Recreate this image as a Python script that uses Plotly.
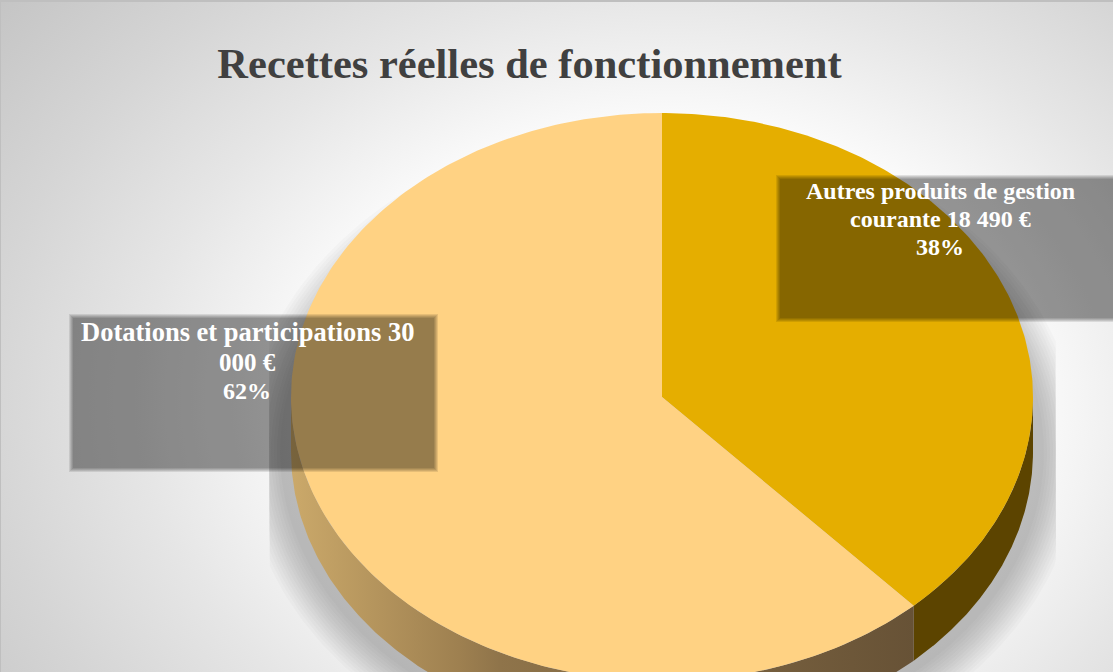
import numpy as np
import plotly.graph_objects as go

# ---- data ----
categories = ["Autres produits de gestion courante", "Dotations et participations"]
values = [18490, 30000]
percent_labels = ["38%", "62%"]
label_lines = [
    ["Autres produits de gestion", "courante 18 490 €", "38%"],
    ["Dotations et participations 30", "000 €", "62%"],
]
title_text = "Recettes réelles de fonctionnement"

# ---- styles ----
W, H = 1113, 672
CX, CY, RX, RY, DEPTH = 662, 397, 371, 284, 55
FACE = ["#E5AE00", "#FFD283"]
WALL_DARK = "#5C4400"
WALL_SCALE = [[0, "#CBA96A"], [0.27, "#9E8050"], [0.335, "#8F744A"], [1, "#675236"]]
FONT = "Liberation Serif"
BOXES = [(778, 1125, 177, 320), (71, 436, 316, 470)]
LABEL_X = [940, 247]
LABEL_Y = [[191, 219, 247], [332, 362, 391]]
LABEL_SIZE = [[24, 24, 24], [26.5, 25, 24]]

fig = go.Figure()


def poly(x, y, **kw):
    fig.add_trace(go.Scatter(x=x, y=y, mode="lines", line=dict(width=0), fill="toself",
                             hoverinfo="skip", showlegend=False, **kw))


def arc(t0, t1, dy=0, n=240):
    t = np.linspace(t0, t1, n)
    return CX + RX * np.sin(t), CY + dy - RY * np.cos(t)


# background radial gradient (a large box centred on the lit spot)
BGX, BGY, BGW, BGH = 670, 400, 910, 700
poly([BGX - BGW, BGX + BGW, BGX + BGW, BGX - BGW, BGX - BGW],
     [BGY - BGH, BGY - BGH, BGY + BGH, BGY + BGH, BGY - BGH],
     fillgradient=dict(type="radial",
                       colorscale=[[0, "#FFFFFF"], [0.36, "#FFFFFF"], [0.58, "#E6E6E6"],
                                   [0.75, "#D5D5D5"], [0.95, "#C3C3C3"], [1, "#C1C1C1"]]))

# soft drop shadow of the pie, cut by its rectangular frame
SH_L, SH_R, SH_CY, SH_RX, SH_RY = 269, 1056, 452, 400, 312
tt = np.linspace(0, 2 * np.pi, 300)
for k in range(18, -19, -3):
    sx = np.clip(CX + (SH_RX + k) * np.sin(tt), SH_L, SH_R)
    sy = SH_CY + (SH_RY + k) * np.cos(tt)
    poly(sx, sy, fillcolor="rgba(0,0,0,0.018)")

# slices
frac = np.cumsum([0] + values) / float(sum(values))
angles = frac * 2 * np.pi

# side walls
a1 = angles[1]
x1, y1 = arc(np.pi / 2, a1)
x2, y2 = arc(a1, np.pi / 2, DEPTH)
poly(np.r_[x1, x2], np.r_[y1, y2], fillcolor=WALL_DARK)

x1, y1 = arc(a1, 1.5 * np.pi)
x2, y2 = arc(1.5 * np.pi, a1, DEPTH)
poly(np.r_[x1, x2], np.r_[y1, y2],
     fillgradient=dict(type="horizontal", colorscale=WALL_SCALE, start=CX - RX, stop=x1[0]))

# top faces
for i in range(len(values)):
    x, y = arc(angles[i], angles[i + 1])
    poly(np.r_[CX, x, CX], np.r_[CY, y, CY], fillcolor=FACE[i])

# translucent label boxes with blurred edges
for (l, r, t, b) in BOXES:
    for d in (-2, -1, 0, 1, 2):
        poly([l + d, r - d, r - d, l + d, l + d], [t + d, t + d, b - d, b - d, t + d],
             fillcolor="rgba(0,0,0,0.097)")

# labels
annotations = []
for i, lines in enumerate(label_lines):
    for j, line in enumerate(lines):
        annotations.append(dict(x=LABEL_X[i], y=LABEL_Y[i][j], xref="x", yref="y", text=line,
                                showarrow=False, align="center",
                                font=dict(family=FONT, size=LABEL_SIZE[i][j], color="white",
                                          weight="bold")))

fig.update_layout(
    width=W, height=H, margin=dict(l=0, r=0, t=0, b=0),
    paper_bgcolor="#EEEEEE", plot_bgcolor="rgba(0,0,0,0)", showlegend=False,
    title=dict(text=title_text, x=529.5 / W, xanchor="center", y=1 - 63 / H, yanchor="middle",
               font=dict(family=FONT, size=42.5, color="#404040", weight="bold")),
    xaxis=dict(range=[0, W], visible=False, fixedrange=True),
    yaxis=dict(range=[H, 0], visible=False, fixedrange=True),
    annotations=annotations,
    shapes=[
        dict(type="line", x0=0, x1=W, y0=1, y1=1, line=dict(color="#BFBFBF", width=2), layer="above"),
        dict(type="line", x0=0.5, x1=0.5, y0=0, y1=H, line=dict(color="#BFBFBF", width=1), layer="above"),
    ],
)

fig.write_html("out.html", config=dict(displayModeBar=False),
               post_script="document.body.style.margin='0';document.body.style.overflow='hidden';")
